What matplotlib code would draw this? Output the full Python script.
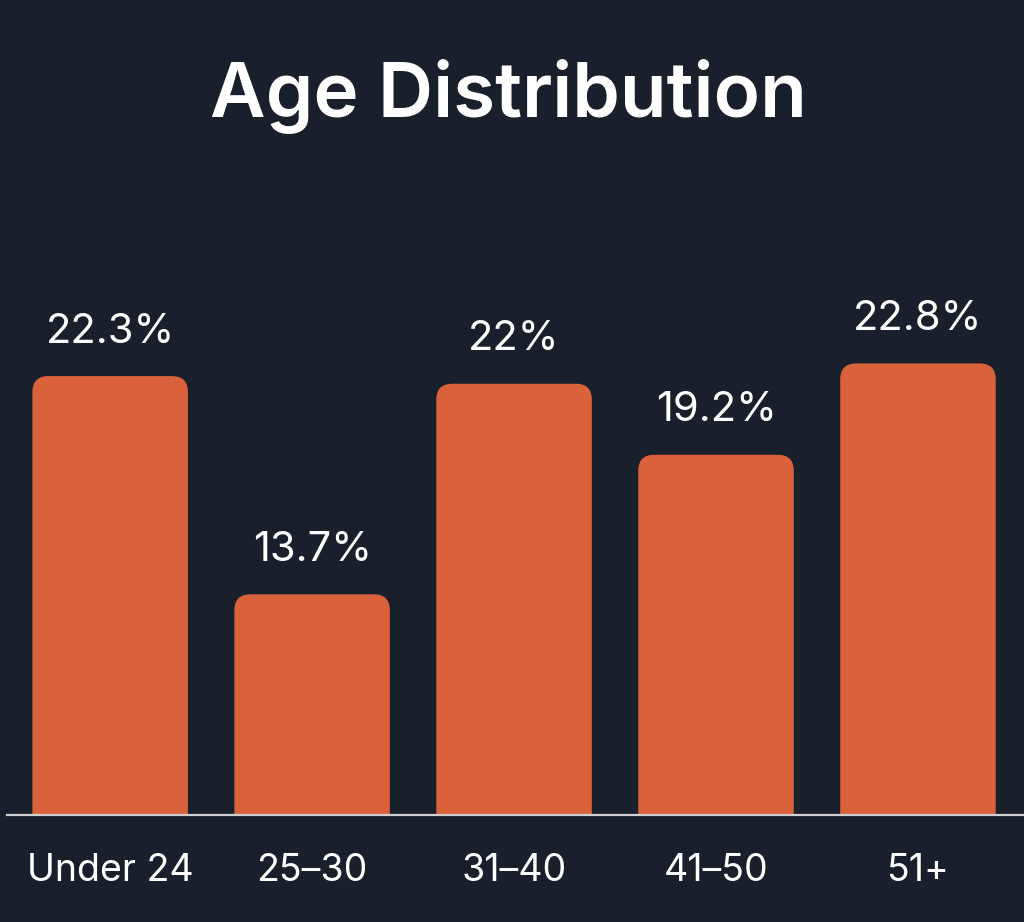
import matplotlib.pyplot as plt
from matplotlib.patches import FancyBboxPatch

categories = ["Under 24", "25–30", "31–40", "41–50", "51+"]
shares = [22.3, 13.7, 22.0, 19.2, 22.8]
value_labels = ["22.3%", "13.7%", "22%", "19.2%", "22.8%"]

bg = "#19202b"
bar_color = "#d9623a"

plt.rcParams['font.family'] = ['Inter', 'DejaVu Sans']

fig = plt.figure(figsize=(10.24, 9.22), dpi=100, facecolor=bg)
ax = fig.add_axes([0.007, 0.116, 0.993, 0.732])
ax.set_facecolor(bg)

x = list(range(len(categories)))
ybottom = 5
ax.set_xlim(-0.51, 4.525)
ax.set_ylim(ybottom, 31.6)

width = 0.77
bars = ax.bar(x, [v - ybottom for v in shares], width=width, bottom=ybottom, color=bar_color)

# rounded tops: swap each rectangle for a rounded patch, bottom corners hidden below the axis
x_per_px = (4.525 + 0.51) / (0.993 * 1024)
y_per_px = (31.6 - ybottom) / (0.732 * 922)
for b in bars:
    b.set_visible(False)
    patch = FancyBboxPatch((b.get_x(), b.get_y() - 2), b.get_width(), b.get_height() + 2,
                           boxstyle="round,pad=0,rounding_size=%f" % (16 * x_per_px),
                           mutation_aspect=y_per_px / x_per_px,
                           facecolor=bar_color, edgecolor="none")
    ax.add_patch(patch)

for xi, v, lab in zip(x, shares, value_labels):
    ax.annotate(lab, (xi, v), xytext=(0, 24), textcoords="offset points",
                ha="center", va="baseline", color="white", fontsize=30)

ax.set_xticks(x)
ax.set_xticklabels(categories, color="white", fontsize=27)
ax.tick_params(axis="x", length=0, pad=27)
ax.set_yticks([])
for s in ["top", "right", "left"]:
    ax.spines[s].set_visible(False)
ax.spines["bottom"].set_color("#d0d0d0")
ax.spines["bottom"].set_linewidth(1.6)

fig.text(0.497, 0.895, "Age Distribution", ha="center", va="center",
         color="white", fontsize=55, fontweight="semibold")

fig.savefig("out.png", dpi=100, facecolor=bg)
